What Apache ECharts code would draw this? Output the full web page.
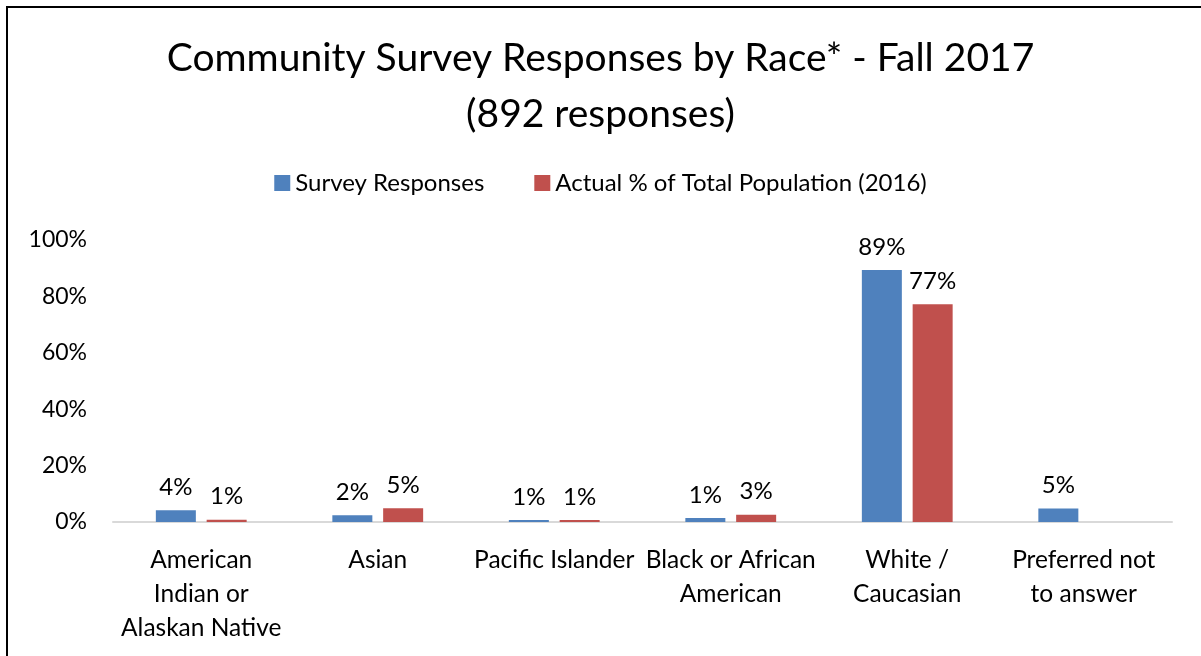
<!DOCTYPE html>
<html><head><meta charset="utf-8">
<script src="https://cdn.jsdelivr.net/npm/echarts@6/dist/echarts.min.js"></script>
<style>html,body{margin:0;padding:0;background:#fff}#c{width:1201px;height:656px}</style>
</head><body><div id="c"></div>
<script>
const categories = ["American\nIndian or\nAlaskan Native", "Asian", "Pacific Islander", "Black or African\nAmerican", "White /\nCaucasian", "Preferred not\nto answer"];
const surveyResponses = [4.2, 2.4, 0.7, 1.4, 89.4, 4.8];
const actualPopulation = [0.8, 4.9, 0.7, 2.6, 77.2, null];
const seriesNames = ["Survey Responses", "Actual % of Total Population (2016)"];
const yTicks = [0, 20, 40, 60, 80, 100];

const FONT = 'Lato';
const chart = echarts.init(document.getElementById('c'));
const lbl = {show: true, position: 'top', distance: 11, color: '#000', fontFamily: FONT, fontSize: 24,
  formatter: p => p.value == null ? '' : Math.round(p.value) + '%'};
chart.setOption({
  animation: false,
  textStyle: {fontFamily: FONT},
  title: {text: 'Community Survey Responses by Race* - Fall 2017\n(892 responses)', left: 'center', top: 25,
    textStyle: {fontFamily: FONT, fontSize: 39, fontWeight: 'normal', color: '#000', lineHeight: 56}},
  legend: {top: 166, left: 'center', itemWidth: 16, itemHeight: 16, itemGap: 50, icon: 'rect', itemTextGap: 6,
    textStyle: {fontFamily: FONT, fontSize: 24, color: '#000'}},
  grid: {left: 113, right: 29, top: 240, bottom: 134},
  xAxis: {type: 'category', data: categories,
    axisLine: {lineStyle: {color: '#d9d9d9', width: 2}}, axisTick: {show: false},
    axisLabel: {color: '#000', fontFamily: FONT, fontSize: 24.5, lineHeight: 34, margin: 21, interval: 0}},
  yAxis: {type: 'value', min: 0, max: 100, interval: 20,
    axisLabel: {color: '#000', fontFamily: FONT, fontSize: 23, margin: 26,
      formatter: v => yTicks.includes(v) ? v + '%' : ''},
    splitLine: {show: false}, axisLine: {show: false}, axisTick: {show: false}},
  series: [
    {name: seriesNames[0], type: 'bar', data: surveyResponses, itemStyle: {color: '#4f81bd'},
      barWidth: 40, barGap: '27%', label: lbl},
    {name: seriesNames[1], type: 'bar', data: actualPopulation, itemStyle: {color: '#c0504d'},
      barWidth: 40, label: lbl}
  ],
  graphic: [
    {type: 'line', shape: {x1: 6, y1: 7, x2: 1201, y2: 7}, style: {stroke: '#000', lineWidth: 2}},
    {type: 'line', shape: {x1: 7, y1: 6, x2: 7, y2: 656}, style: {stroke: '#000', lineWidth: 2}}
  ]
});
</script></body></html>
